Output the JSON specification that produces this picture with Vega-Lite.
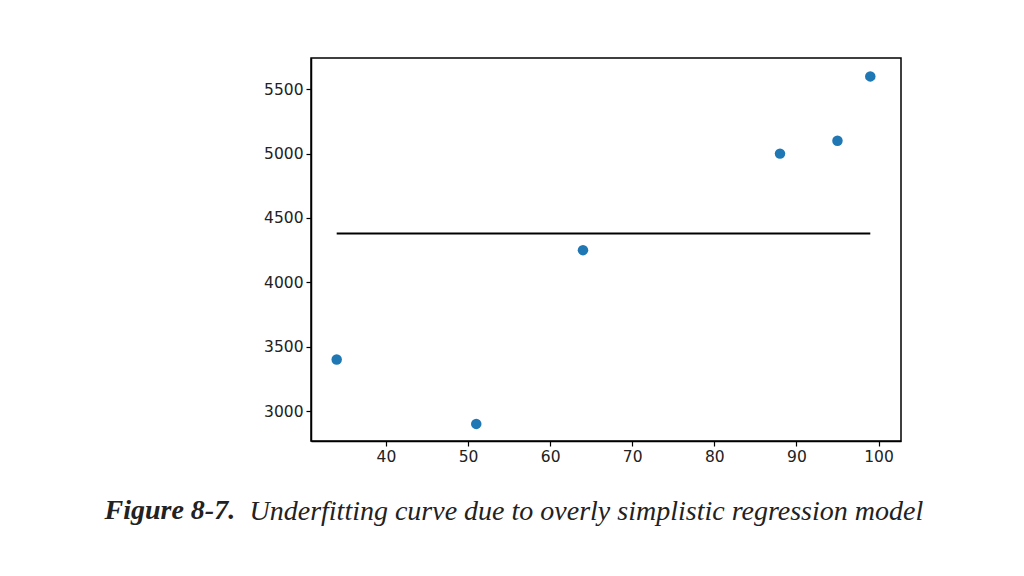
{
  "$schema": "https://vega.github.io/schema/vega-lite/v6.json",
  "width": 590,
  "height": 383,
  "autosize": {"type": "none"},
  "padding": {"left": 311, "top": 58, "right": 123, "bottom": 135},
  "background": "white",
  "config": {
    "view": {"stroke": "black", "strokeWidth": 1.5},
    "axis": {
      "grid": false,
      "domainColor": "black",
      "domainWidth": 1.5,
      "tickColor": "black",
      "tickWidth": 1.2,
      "tickSize": 5,
      "labelFont": "DejaVu Sans",
      "labelFontSize": 15.5,
      "labelColor": "#222222",
      "labelPadding": 3
    }
  },
  "layer": [
    {
      "data": {
        "values": [
          {"x": 34, "y": 3400},
          {"x": 51, "y": 2900},
          {"x": 64, "y": 4250},
          {"x": 88, "y": 5000},
          {"x": 95, "y": 5100},
          {"x": 99, "y": 5600}
        ]
      },
      "mark": {"type": "circle", "size": 110, "color": "#1f77b4", "opacity": 1},
      "encoding": {
        "x": {
          "field": "x",
          "type": "quantitative",
          "scale": {"domain": [30.87, 102.74], "nice": false, "zero": false},
          "axis": {
            "values": [40, 50, 60, 70, 80, 90, 100],
            "format": "d",
            "title": "Underfitting curve due to overly simplistic regression model",
            "titleFont": "Liberation Serif",
            "titleFontStyle": "italic",
            "titleFontWeight": "normal",
            "titleFontSize": 28,
            "titleColor": "#222222",
            "titleAlign": "left",
            "titleAnchor": "start",
            "titleBaseline": "alphabetic",
            "titleX": -62,
            "titleY": 78
          }
        },
        "y": {
          "field": "y",
          "type": "quantitative",
          "scale": {"domain": [2767, 5743], "nice": false, "zero": false},
          "axis": {
            "values": [3000, 3500, 4000, 4500, 5000, 5500],
            "format": "d",
            "title": "Figure 8-7.",
            "titleFont": "Liberation Serif",
            "titleFontStyle": "italic",
            "titleFontWeight": "bold",
            "titleFontSize": 28,
            "titleColor": "#222222",
            "titleAngle": 0,
            "titleAlign": "left",
            "titleAnchor": "start",
            "titleBaseline": "alphabetic",
            "titleX": -207,
            "titleY": 460
          }
        }
      }
    },
    {
      "data": {"values": [{"x": 34, "y": 4380}, {"x": 99, "y": 4380}]},
      "mark": {"type": "line", "color": "black", "strokeWidth": 2},
      "encoding": {
        "x": {"field": "x", "type": "quantitative"},
        "y": {"field": "y", "type": "quantitative"}
      }
    }
  ]
}
